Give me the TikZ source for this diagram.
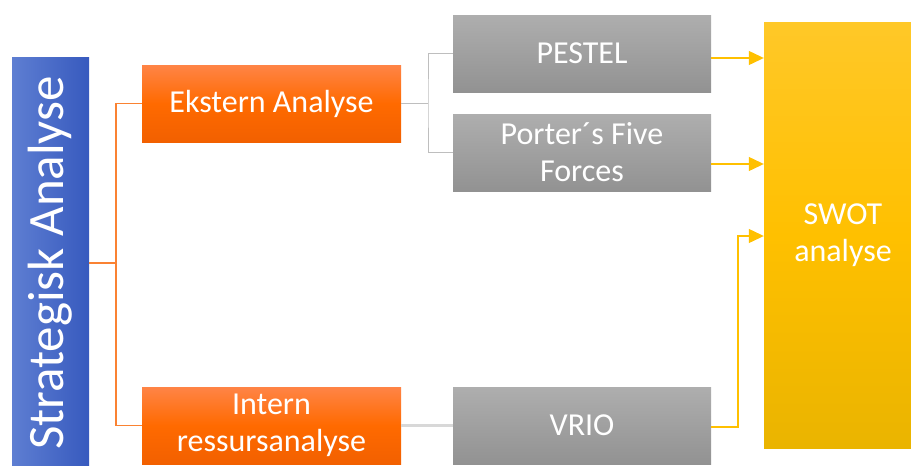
\documentclass[tikz,border=0pt]{standalone}
\usepackage{fontspec}
\setmainfont{Carlito}
\usetikzlibrary{arrows.meta}
\definecolor{btop}{RGB}{94,126,210}
\definecolor{bbot}{RGB}{55,90,190}
\definecolor{otop}{RGB}{255,132,70}
\definecolor{omid}{RGB}{255,106,0}
\definecolor{obot}{RGB}{242,96,0}
\definecolor{gtop}{RGB}{174,174,174}
\definecolor{gbot}{RGB}{146,146,146}
\definecolor{ytop}{RGB}{255,200,40}
\definecolor{ymid}{RGB}{255,192,0}
\definecolor{ybot}{RGB}{234,180,0}
\definecolor{oline}{RGB}{250,130,50}
\definecolor{gline}{RGB}{190,190,190}
\definecolor{yline}{RGB}{255,192,0}
\begin{document}
\begin{tikzpicture}[x=1pt,y=-1pt,
  box/.style={inner sep=0pt,text=white,align=center,font=\fontsize{32}{37}\selectfont},
  orangebox/.style={box,minimum width=259pt,minimum height=77pt,top color=otop,bottom color=obot,middle color=omid},
  graybox/.style={box,minimum width=258pt,minimum height=77pt,top color=gtop,bottom color=gbot},
  orangeline/.style={draw=oline,line width=1.3pt},
  grayline/.style={draw=gline,line width=1pt},
  arr/.style={draw=yline,line width=1.2pt,-{Triangle[length=15pt,width=14pt]}}]
\useasboundingbox (0,0) rectangle (911,466);
\node[box,rotate=90,minimum width=412pt,minimum height=77pt,left color=btop,right color=bbot,font=\fontsize{51}{60}\selectfont] (strat) at (50.5,263) {Strategisk Analyse};
\node[orangebox] (ekstern) at (271.5,103.5) {Ekstern Analyse};
\node[orangebox] (intern) at (271.5,425.5) {Intern\\ressursanalyse};
\node[graybox] (pestel) at (582,53.5) {PESTEL};
\node[graybox] (porter) at (582,152.5) {Porter´s Five\\Forces};
\node[graybox] (vrio) at (582,425.5) {VRIO};
\node[box,minimum width=158pt,minimum height=426pt,top color=ytop,bottom color=ybot,middle color=ymid] (swot) at (843,235) {SWOT\\analyse};
\coordinate (ojoin) at (116,263);
\coordinate (gjoin) at (428,103.5);
\coordinate (vbend) at (738,427);
\draw[orangeline] (strat.south) -- (ojoin);
\draw[orangeline] (ekstern.west) -| (ojoin) |- (intern.west);
\draw[grayline] (ekstern.east) -- (gjoin);
\draw[grayline] (pestel.west) -| (gjoin) |- (porter.west);
\draw[draw=gline!60,line width=2.5pt] (intern.east) -- (vrio.west);
\draw[arr] ([yshift=-4.5pt]pestel.east) -- ([yshift=-4.5pt]pestel.east -| swot.west);
\draw[arr] ([yshift=-11.5pt]porter.east) -- ([yshift=-11.5pt]porter.east -| swot.west);
\draw[arr] ([yshift=-1.5pt]vrio.east) -- (vbend) |- ([yshift=-1pt]swot.west);
\end{tikzpicture}
\end{document}
